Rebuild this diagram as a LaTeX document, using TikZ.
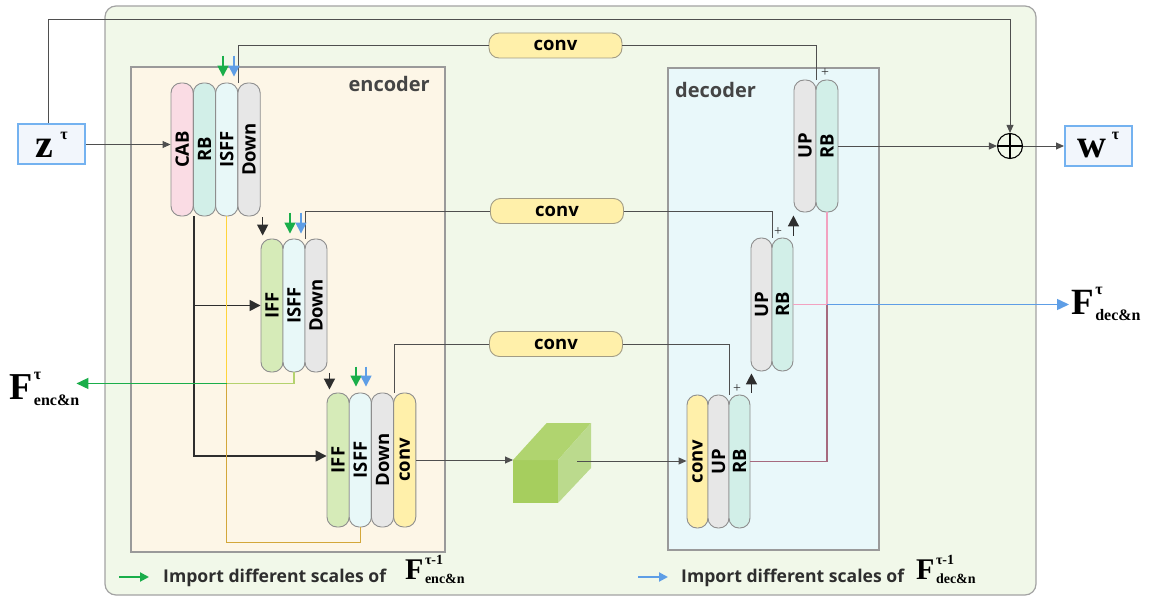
\documentclass[tikz,border=0pt]{standalone}
\usepackage{graphicx}
\usepackage{fontspec}
\setmainfont{Liberation Serif}
\newfontfamily\labfont{Open Sans}
\usetikzlibrary{arrows.meta,calc}

\definecolor{outerfill}{HTML}{F1F8E9}
\definecolor{outerline}{HTML}{A3A3A3}
\definecolor{encfill}{HTML}{FDF6E7}
\definecolor{decfill}{HTML}{E9F8FA}
\definecolor{boxline}{HTML}{9A9A9A}
\definecolor{wirec}{HTML}{4F4F4F}
\definecolor{pillline}{HTML}{8E8E8E}
\definecolor{cabfill}{HTML}{FADCE4}
\definecolor{rbfill}{HTML}{D2EFE8}
\definecolor{isfffill}{HTML}{E8F8F8}
\definecolor{grayfill}{HTML}{E7E7E7}
\definecolor{ifffill}{HTML}{D6EBB8}
\definecolor{convfill}{HTML}{FFF0AA}
\definecolor{convline}{HTML}{A29C84}
\definecolor{iofill}{HTML}{F2F6FC}
\definecolor{ioline}{HTML}{74B2F0}
\definecolor{impgreen}{HTML}{1AAE4A}
\definecolor{impblue}{HTML}{5E9EE6}
\definecolor{dark}{HTML}{2E2E2E}
\definecolor{yelwire}{HTML}{FFD43B}
\definecolor{olivewire}{HTML}{B4D26E}
\definecolor{goldwire}{HTML}{D3A73A}
\definecolor{pinkwire}{HTML}{F2A2C0}
\definecolor{mauvewire}{HTML}{A66A7E}
\definecolor{cubefront}{HTML}{A6CE5E}
\definecolor{cubetop}{HTML}{B0D46F}
\definecolor{cuberight}{HTML}{BBDA8D}
\definecolor{titletext}{HTML}{454545}

\newcommand{\pillfont}{\labfont\bfseries\fontsize{18.5}{19}\selectfont}
% bold F with a superscript and a subscript: size, sup, sub, sup raise, sub raise, small size
\newcommand{\Fsym}[6]{%
{\bfseries\fontsize{#1}{#1}\selectfont F}\hspace{1.5pt}%
\rlap{\raisebox{#4}{\bfseries\fontsize{#6}{#6}\selectfont #2}}%
\raisebox{#5}{\bfseries\fontsize{#6}{#6}\selectfont #3}}

\begin{document}
\begin{tikzpicture}[x=1pt,y=-1pt,
  wirestyle/.style={draw=wirec, line width=0.9pt},
  thinarr/.style={draw=wirec, line width=0.9pt, -{Triangle[length=8pt,width=7pt]}},
  bigarr/.style={draw=dark, line width=1.5pt, -{Triangle[length=11pt,width=11pt]}},
  pill/.style={draw=pillline, line width=0.9pt, rounded corners=10pt,
    minimum width=22pt, minimum height=133pt, inner sep=0pt, font=\pillfont, text=black},
  convbox/.style={draw=convline, fill=convfill, line width=0.9pt, rounded corners=10pt,
    minimum width=133pt, minimum height=25pt, inner sep=0pt, font=\pillfont, text=black},
  iobox/.style={draw=ioline, fill=iofill, line width=2pt, minimum width=67pt,
    minimum height=40pt, inner sep=0pt},
  imp/.style={line width=1.5pt, -{Triangle[length=11pt,width=11pt]}},
  boxtitle/.style={font=\labfont\bfseries\fontsize{20}{20}\selectfont, text=titletext, inner sep=0pt},
  legtext/.style={font=\labfont\bfseries\fontsize{17.6}{18}\selectfont, text=dark, inner sep=0pt},
  plusmark/.style={font=\fontsize{14}{14}\selectfont, text=dark, inner sep=0pt},
  symnode/.style={inner sep=0pt, text=black},
  oplus/.style={circle, draw=black, line width=1.1pt, minimum size=25pt, inner sep=0pt,
    path picture={\draw[line width=1.1pt]
      (path picture bounding box.north) -- (path picture bounding box.south)
      (path picture bounding box.west) -- (path picture bounding box.east);}}
]
\fill[white] (0,0) rectangle (1152,599);
\useasboundingbox (0,0) rectangle (1152,599);

% frames
\draw[draw=outerline, fill=outerfill, line width=1.2pt, rounded corners=11pt] (105,6) rectangle (1036,595);
\draw[draw=boxline, fill=encfill, line width=1.1pt] (131,67) rectangle (445,552);
\draw[draw=boxline, fill=decfill, line width=1.1pt] (668,68) rectangle (879,550);
\node[boxtitle, anchor=base east] (enctitle) at (430,92) {encoder};
\node[boxtitle, anchor=base west] (dectitle) at (675,98) {decoder};

% encoder stage 1
\node[pill, minimum width=22.3pt, fill=cabfill] (cab) at (182.15,149.5) {\rotatebox{90}{CAB}};
\node[pill, minimum width=22.3pt, fill=rbfill] (erb) at (204.45,149.5) {\rotatebox{90}{RB}};
\node[pill, minimum width=22.3pt, fill=isfffill] (isff1) at (226.75,149.5) {\rotatebox{90}{ISFF}};
\node[pill, minimum width=22.3pt, fill=grayfill] (down1) at (249.05,149.5) {\rotatebox{90}{Down}};
% encoder stage 2
\node[pill, fill=ifffill] (iff2) at (272,305.5) {\rotatebox{90}{IFF}};
\node[pill, fill=isfffill] (isff2) at (294,305.5) {\rotatebox{90}{ISFF}};
\node[pill, fill=grayfill] (down2) at (316,305.5) {\rotatebox{90}{Down}};
% encoder stage 3
\node[pill, minimum width=22.2pt, minimum height=134pt, fill=ifffill] (iff3) at (338.1,460) {\rotatebox{90}{IFF}};
\node[pill, minimum width=22.2pt, minimum height=134pt, fill=isfffill] (isff3) at (360.3,460) {\rotatebox{90}{ISFF}};
\node[pill, minimum width=22.2pt, minimum height=134pt, fill=grayfill] (down3) at (382.5,460) {\rotatebox{90}{Down}};
\node[pill, minimum width=22.2pt, minimum height=134pt, fill=convfill] (econv) at (404.7,460) {\rotatebox{90}{conv}};

% decoder stages
\node[pill, minimum height=132pt, fill=grayfill] (up1) at (805,146) {\rotatebox{90}{UP}};
\node[pill, minimum height=132pt, fill=rbfill] (rb1) at (827,146) {\rotatebox{90}{RB}};
\node[pill, minimum width=21pt, fill=grayfill] (up2) at (761.5,304.5) {\rotatebox{90}{UP}};
\node[pill, minimum width=21pt, fill=rbfill] (rb2) at (782.5,304.5) {\rotatebox{90}{RB}};
\node[pill, minimum width=21pt, fill=convfill] (dconv) at (697.5,461.5) {\rotatebox{90}{conv}};
\node[pill, minimum width=21pt, fill=grayfill] (dup3) at (718.5,461.5) {\rotatebox{90}{UP}};
\node[pill, minimum width=21pt, fill=rbfill] (rb3) at (739.5,461.5) {\rotatebox{90}{RB}};

% skip convolutions
\node[convbox] (conv1) at (555.5,45.5) {conv};
\node[convbox] (conv2) at (557,211) {conv};
\node[convbox] (conv3) at (556,344) {conv};

% input, output and sum
\node[iobox] (zin) at (51.7,144.5) {\raisebox{0pt}[27pt][0pt]{{\bfseries\fontsize{40}{40}\selectfont z}\hspace{7pt}\raisebox{18pt}{\bfseries\fontsize{16}{16}\selectfont τ}}};
\node[iobox] (wout) at (1098.5,146) {\raisebox{0pt}[24pt][0pt]{{\bfseries\fontsize{40}{40}\selectfont w}\hspace{5pt}\raisebox{18pt}{\bfseries\fontsize{16}{16}\selectfont τ}}};
\node[oplus] (sum) at (1010,146) {};

\node[symnode, anchor=base west] (fenc) at (9,399) {\Fsym{38}{τ}{enc\&n}{20pt}{-6pt}{16}};
\node[symnode, anchor=base west] (fdec) at (1071,314) {\Fsym{37}{τ}{dec\&n}{20pt}{-6pt}{16}};

% bottleneck feature block
\fill[cubefront] (513,460) rectangle (558,503);
\fill[cubetop] (513,460) -- (546.7,423) -- (591,423) -- (558,460) -- cycle;
\fill[cuberight] (558,460) -- (591,423) -- (591,468) -- (558,503) -- cycle;
\coordinate (cubein) at (513,460);
\coordinate (cubeout) at (577,461);

% main connectors
\coordinate (ztop) at (48.3,19);
\draw[thinarr] ($(zin.north)+(-3.4,0)$) -- (ztop) -| (sum.north);
\draw[thinarr] (zin.east) -- (zin.east -| cab.west);
\draw[thinarr] (rb1.east) -- (sum.west);
\draw[thinarr] (sum.east) -- (wout.west);
\draw[thinarr] (econv.east) -- (cubein);
\draw[thinarr] (cubeout) -- (cubeout -| dconv.west);

\draw[wirestyle] (isff1.north east) |- (conv1.west);
\draw[wirestyle] (conv1.east) -| (up1.north east);
\draw[wirestyle] (isff2.north east) |- (conv2.west);
\draw[wirestyle] (conv2.east) -| (up2.north east);
\draw[wirestyle] (down3.north east) |- (conv3.west);
\draw[wirestyle] (conv3.east) -| (dup3.north east);

% stage-to-stage arrows
\draw[bigarr] ($(down1.south east)+(2,1)$) -- ($(down1.south east |- iff2.north)+(2,-3)$);
\draw[bigarr] ($(down2.south east)+(2,1)$) -- ($(down2.south east |- iff3.north)+(2,-3)$);
\draw[bigarr] ($(rb3.north east)+(1,-2)$) -- ($(rb3.north east |- up2.south)+(1,2)$);
\draw[bigarr] ($(rb2.north east)+(0,-2)$) -- ($(rb2.north east |- up1.south)+(0,3)$);
\draw[bigarr] (cab.south east) |- ($(iff3.west)+(0,-4)$);
\draw[bigarr] (cab.south east |- iff2.west) -- (iff2.west);

% imported scales
\draw[imp, impgreen] ($(isff1.north)+(-3.75,-27)$) -- ++(0,21);
\draw[imp, impblue] ($(isff1.north)+(7.25,-27)$) -- ++(0,21);
\draw[imp, impgreen] ($(isff2.north)+(-4,-26)$) -- ++(0,21);
\draw[imp, impblue] ($(isff2.north)+(7,-26)$) -- ++(0,21);
\draw[imp, impgreen] ($(isff3.north)+(-4.3,-26)$) -- ++(0,20);
\draw[imp, impblue] ($(isff3.north)+(5.7,-26)$) -- ++(0,20);

% residual marks
\node[plusmark] (pl1) at ($(rb1.north)+(-2,-7)$) {+};
\node[plusmark] (pl2) at ($(rb2.north)+(-4.5,-6)$) {+};
\node[plusmark] (pl3) at ($(rb3.north)+(-2.5,-6.5)$) {+};

% encoder feature output
\coordinate (encjoin) at ($(isff1.south)+(0,167)$);
\draw[draw=yelwire, line width=1.3pt] (isff1.south) -- (encjoin);
\draw[draw=olivewire, line width=1.3pt] (isff2.south) |- (encjoin);
\draw[draw=goldwire, line width=1.3pt] (isff3.south) -- ++(0,15) -| (encjoin);
\draw[draw=impgreen, line width=1.5pt, -{Triangle[length=12pt,width=11pt]}, shorten >=-3pt] (encjoin) -- (fenc.east |- encjoin);

% decoder feature output
\coordinate (decjoin) at (rb1.south |- rb2.east);
\draw[draw=pinkwire, line width=1.3pt] (rb2.east) -- (decjoin);
\draw[draw=pinkwire, line width=1.3pt] (rb1.south) -- (decjoin);
\draw[draw=mauvewire, line width=1.3pt] (decjoin) |- (rb3.east);
\draw[draw=impblue, line width=1.5pt, -{Triangle[length=12pt,width=11pt]}, shorten >=2pt] (decjoin) -- (fdec.west |- decjoin);

% legend
\coordinate (lg1a) at (119,577);
\coordinate (lg1b) at (149,577);
\draw[impgreen, line width=2pt, -{Triangle[length=9pt,width=9pt]}] (lg1a) -- (lg1b);
\node[legtext, anchor=base west] (leg1) at (163,582) {Import different scales of};
\node[symnode, anchor=base west] (legF1) at (405,579) {\Fsym{30}{τ-1}{enc\&n}{15pt}{-4pt}{14}};
\coordinate (lg2a) at (638,577);
\coordinate (lg2b) at (668,577);
\draw[impblue, line width=2pt, -{Triangle[length=9pt,width=9pt]}] (lg2a) -- (lg2b);
\node[legtext, anchor=base west] (leg2) at (681,582) {Import different scales of};
\node[symnode, anchor=base west] (legF2) at (916,579) {\Fsym{30}{τ-1}{dec\&n}{15pt}{-4pt}{14}};
\end{tikzpicture}
\end{document}
